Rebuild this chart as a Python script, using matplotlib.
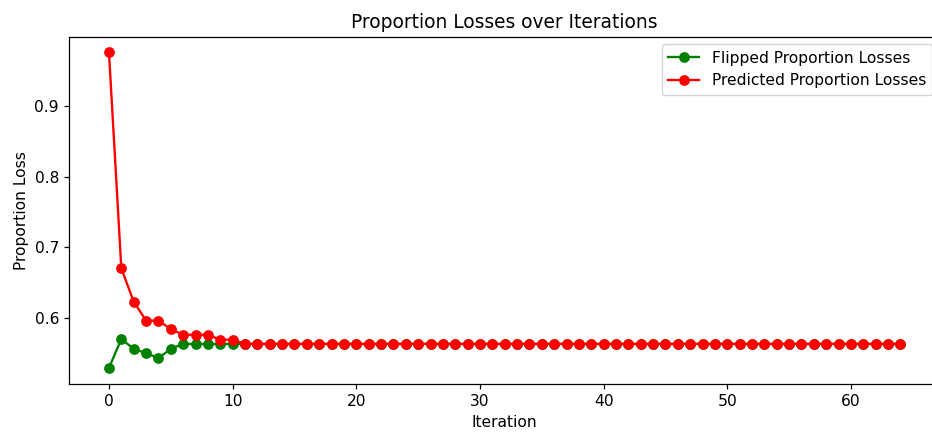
import matplotlib
matplotlib.use("Agg")
import matplotlib.pyplot as plt
import numpy as np

# values, iterations 0..64
flipped_head = [0.529, 0.570, 0.556, 0.550, 0.543, 0.556, 0.563, 0.563, 0.563, 0.563, 0.563]
predicted_head = [0.976, 0.670, 0.623, 0.596, 0.596, 0.584, 0.576, 0.576, 0.576, 0.569, 0.569]
n_iter = 65
plateau = 0.563

flipped = flipped_head + [plateau] * (n_iter - len(flipped_head))
predicted = predicted_head + [plateau] * (n_iter - len(predicted_head))
iterations = np.arange(n_iter)

# reference looks rendered a bit larger than 100 dpi, so scale everything up
s = 1.12
plt.rcParams.update({
    'font.size': 10 * s,
    'lines.linewidth': 1.5 * s,
    'lines.markersize': 6 * s,
    'axes.linewidth': 0.8 * s,
    'xtick.major.size': 3.5 * s,
    'ytick.major.size': 3.5 * s,
    'xtick.major.width': 0.8 * s,
    'ytick.major.width': 0.8 * s,
})

fig = plt.figure(figsize=(9.32, 4.33), dpi=100)
# the reference is cropped on the right, so the axes run a little past the edge
ax = fig.add_axes([69.4 / 932, (433 - 383.7) / 433, (940 - 69.4) / 932, (383.7 - 36.7) / 433])
ax.plot(iterations, flipped, marker='o', color='green', label='Flipped Proportion Losses')
ax.plot(iterations, predicted, marker='o', color='red', label='Predicted Proportion Losses')
ax.set_title('Proportion Losses over Iterations')
ax.set_xlabel('Iteration')
ax.set_ylabel('Proportion Loss')
ax.legend(loc='upper right')
fig.savefig('out.png')
